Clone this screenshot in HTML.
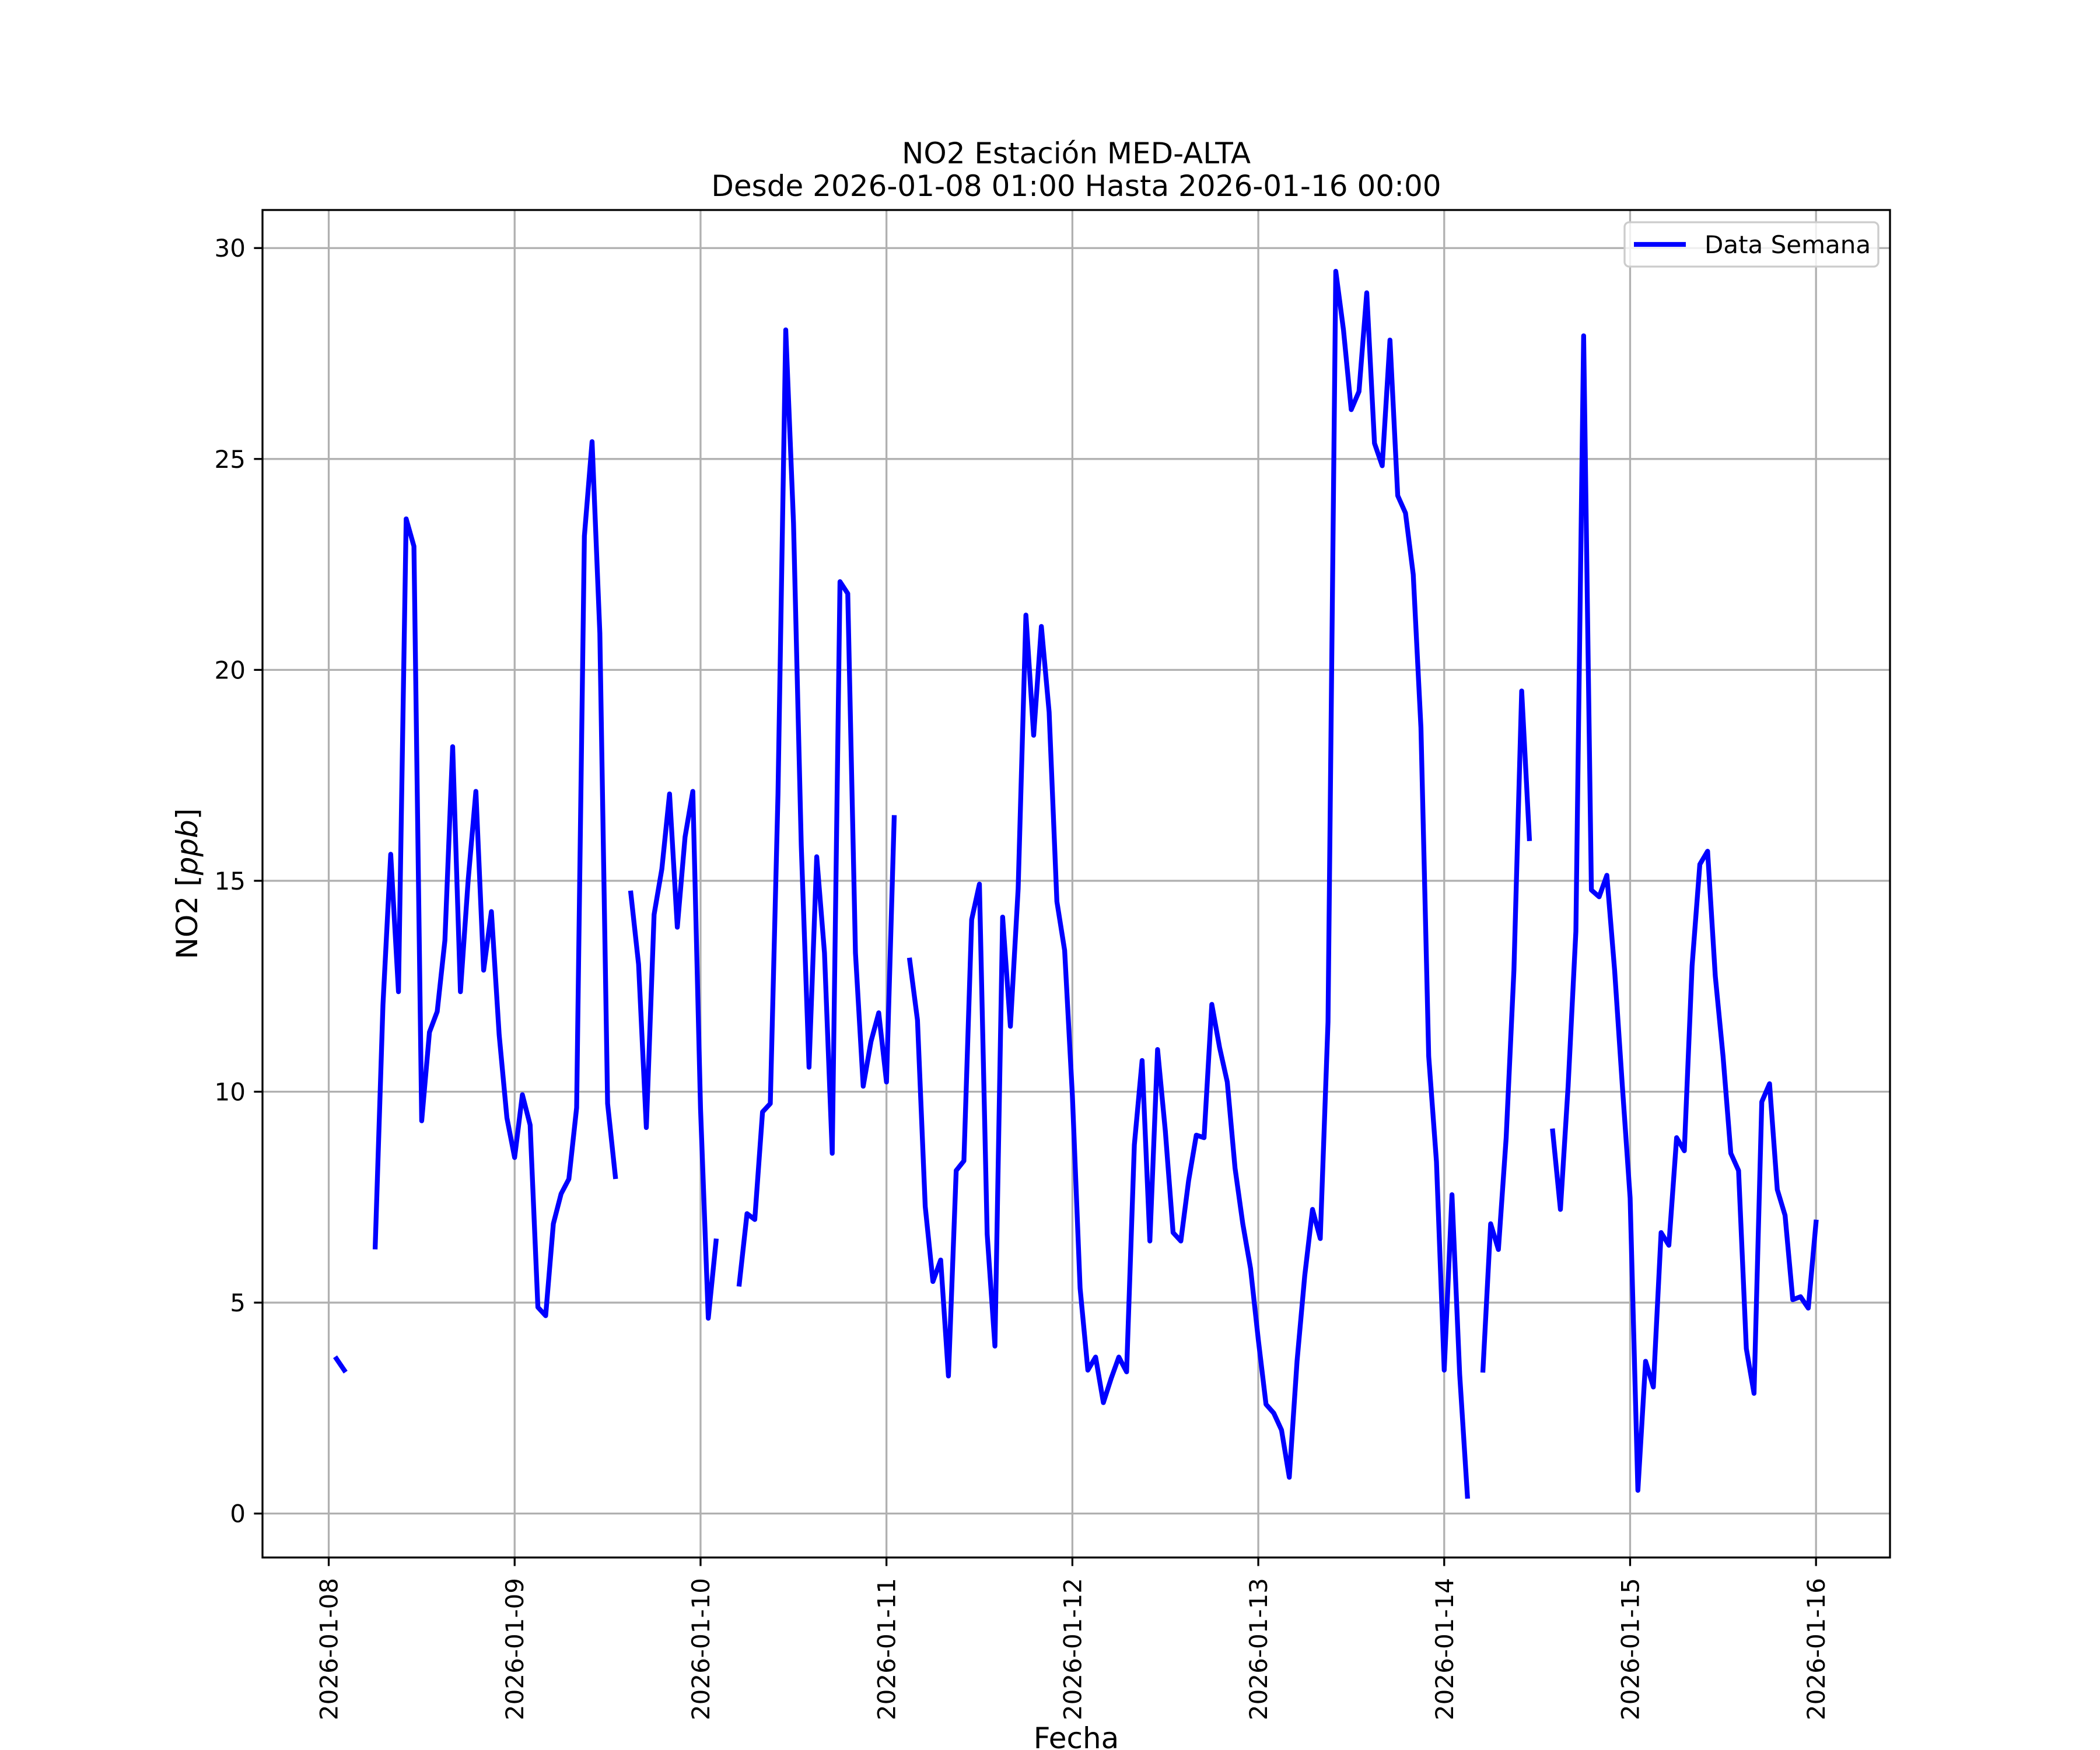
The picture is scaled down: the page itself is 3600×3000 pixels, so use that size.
<!DOCTYPE html>
<html><head><meta charset="utf-8"><style>
html,body{margin:0;padding:0;background:#fff;}
svg{display:block;font-family:"DejaVu Sans","Liberation Sans",sans-serif;}
</style></head><body>
<svg id="chart" width="3600" height="3000" viewBox="0 0 3600 3000" xmlns="http://www.w3.org/2000/svg">
<rect width="3600" height="3000" fill="#fff"/>
<g id="grid"></g>
<g id="series"></g>
<g id="axes"></g>
<text x="1845" y="280" font-size="50" text-anchor="middle">NO2 Estación MED-ALTA</text>
<text x="1845" y="336" font-size="50" text-anchor="middle">Desde 2026-01-08 01:00 Hasta 2026-01-16 00:00</text>
<text transform="translate(338,1515) rotate(-90)" font-size="50" text-anchor="middle">NO2 [<tspan font-style="italic">ppb</tspan>]</text>
<text x="1845" y="2997" font-size="50" text-anchor="middle">Fecha</text>
<g>
<rect x="2785" y="381" width="435" height="76" rx="8" fill="#fff" fill-opacity="0.8" stroke="#cccccc" stroke-width="3.3"/>
<line x1="2801" y1="419" x2="2890" y2="419" stroke="#0000ff" stroke-width="8.3"/>
<text x="2922" y="434" font-size="42">Data Semana</text>
</g>
</svg>
<script>
const startDay = 8; // hours counted from 2026-01-08 00:00
const firstHour = 1;
const dayTicks = ["2026-01-08","2026-01-09","2026-01-10","2026-01-11","2026-01-12","2026-01-13","2026-01-14","2026-01-15","2026-01-16"];
const yTicks = [0,5,10,15,20,25,30];
const values = [3.67,3.4,null,null,null,6.32,12.06,15.63,12.37,23.58,22.93,9.31,11.41,11.9,13.59,18.18,12.37,15.02,17.12,12.88,14.27,11.35,9.38,8.44,
9.93,9.21,4.89,4.69,6.87,7.58,7.93,9.62,23.17,25.41,20.87,9.72,7.99,null,14.71,13.02,9.15,14.2,15.28,17.06,13.9,16.04,17.12,9.6,
4.63,6.46,null,null,5.44,7.11,6.97,9.52,9.72,17.06,28.06,23.48,15.83,10.58,15.57,13.29,8.54,22.09,21.81,13.29,10.13,11.19,11.87,10.23,
16.5,null,13.12,11.7,7.28,5.5,6.01,3.26,8.13,8.36,14.08,14.92,6.62,3.97,14.14,11.55,14.81,21.3,18.45,21.03,19.0,14.51,13.35,9.9,
5.34,3.4,3.71,2.63,3.2,3.71,3.36,8.74,10.74,6.46,11.0,9.07,6.66,6.46,7.89,8.97,8.91,12.07,11.05,10.23,8.19,6.87,5.81,4.12,
2.59,2.38,1.98,0.86,3.61,5.64,7.21,6.52,11.66,29.45,28.06,26.17,26.6,28.94,25.37,24.84,27.82,24.13,23.72,22.26,18.63,10.84,8.34,3.4,
7.56,3.3,0.41,null,3.4,6.87,6.26,8.91,12.88,19.5,16.0,null,null,9.07,7.21,10.13,13.8,27.92,14.78,14.62,15.13,12.88,10.13,7.48,
0.55,3.61,3.0,6.66,6.36,8.91,8.6,12.98,15.39,15.7,12.74,10.84,8.54,8.13,3.91,2.85,9.76,10.19,7.68,7.07,5.07,5.14,4.87,6.91];

const NS = "http://www.w3.org/2000/svg";
const L = 450, R = 3240, T = 360, B = 2670;
const lastHour = firstHour + values.length - 1;
const hSpan = lastHour - firstHour;
const xmin = firstHour - 0.05 * hSpan, xmax = lastHour + 0.05 * hSpan;
const nums = values.filter(v => v !== null);
const vmin = Math.min(...nums), vmax = Math.max(...nums);
const ymin = vmin - 0.05 * (vmax - vmin), ymax = vmax + 0.05 * (vmax - vmin);
function xScale(h) { return L + (h - xmin) / (xmax - xmin) * (R - L); }
function yScale(v) { return B - (v - ymin) / (ymax - ymin) * (B - T); }
function mk(tag, attrs, parent) {
  const e = document.createElementNS(NS, tag);
  for (const k in attrs) e.setAttribute(k, attrs[k]);
  parent.appendChild(e);
  return e;
}
const grid = document.getElementById('grid');
const axes = document.getElementById('axes');
const series = document.getElementById('series');

dayTicks.forEach((lab, i) => {
  const x = xScale(i * 24);
  const g = mk('line', {x1: x, y1: T, x2: x, y2: B, stroke: '#b0b0b0', 'stroke-width': 3.3}, grid);
  
  
  const t = mk('line', {x1: x, y1: B, x2: x, y2: B + 14.6, stroke: '#000', 'stroke-width': 3.3}, axes);
  
  
  const tx = mk('text', {transform: `translate(${x + 15},${B + 35}) rotate(-90)`, 'font-size': 42, 'text-anchor': 'end'}, axes);
  tx.textContent = lab;
  
  
});
yTicks.forEach(v => {
  const y = yScale(v);
  const g = mk('line', {x1: L, y1: y, x2: R, y2: y, stroke: '#b0b0b0', 'stroke-width': 3.3}, grid);
  
  
  const t = mk('line', {x1: L - 14.6, y1: y, x2: L, y2: y, stroke: '#000', 'stroke-width': 3.3}, axes);
  
  
  const tx = mk('text', {x: L - 29, y: y + 15, 'font-size': 42, 'text-anchor': 'end'}, axes);
  tx.textContent = String(v);
  
  
});
const frame = mk('rect', {x: L, y: T, width: R - L, height: B - T, fill: 'none', stroke: '#000', 'stroke-width': 3.3}, axes);



let d = '', pen = false;
values.forEach((v, i) => {
  if (v === null) { pen = false; return; }
  const x = xScale(firstHour + i).toFixed(1), y = yScale(v).toFixed(1);
  d += (pen ? 'L' : 'M') + x + ' ' + y + ' ';
  pen = true;
});
const line = mk('path', {d: d, fill: 'none', stroke: '#0000ff', 'stroke-width': 8.3, 'stroke-linejoin': 'round', 'stroke-linecap': 'square'}, series);


</script>
</body></html>
